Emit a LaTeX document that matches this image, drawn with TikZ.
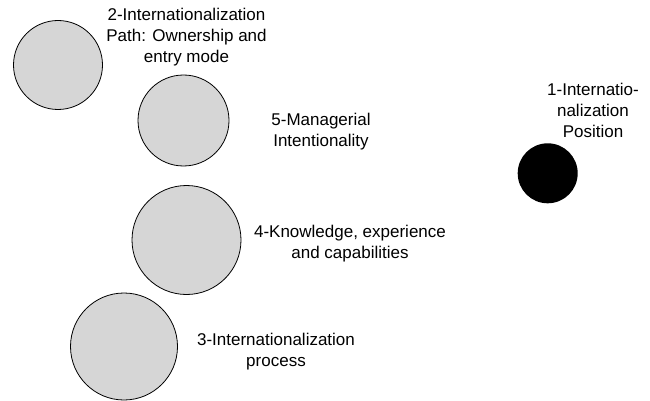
\documentclass[tikz,border=0pt]{standalone}
\usepackage{fontspec}
\setmainfont{Liberation Sans}
\usepackage{tikz}
\definecolor{color1}{rgb}{0.84,0.84,0.84}

\begin{document}
\begin{tikzpicture}[x=1pt,y=-1pt,thin,
  bubble/.style={circle,draw=black,line width=0.8pt,fill=color1,inner sep=0pt},
  lbl/.style={align=center,inner sep=0pt,font=\fontsize{17}{21}\selectfont}]

  \useasboundingbox (0,0) rectangle (650,401);

  % grey circles: x/y/diameter/name
  \foreach \x/\y/\d/\n in {58/65/89/path, 183.5/120.5/91/manag, 186.5/240/109/know, 124/346.5/107/proc}
  {
    \node [bubble,minimum size=\d] (\n) at (\x,\y) {};
  }
  \node [circle,fill=black,inner sep=0pt,minimum size=60] (pos) at (547.7,173.3) {};

  \node [lbl] (tpath) at (186.5,37) {2-Internationalization\\Path: Ownership and\\entry mode};
  \node [lbl] (tmanag) at (321,132) {5-Managerial\\Intentionality};
  \node [lbl] (tknow) at (350,243.5) {4-Knowledge, experience\\and capabilities};
  \node [lbl] (tproc) at (276,352) {3-Internationalization\\process};
  \node [lbl] (tpos) at (593,110.5) {1-Internatio-\\nalization\\Position};

\end{tikzpicture}
\end{document}
